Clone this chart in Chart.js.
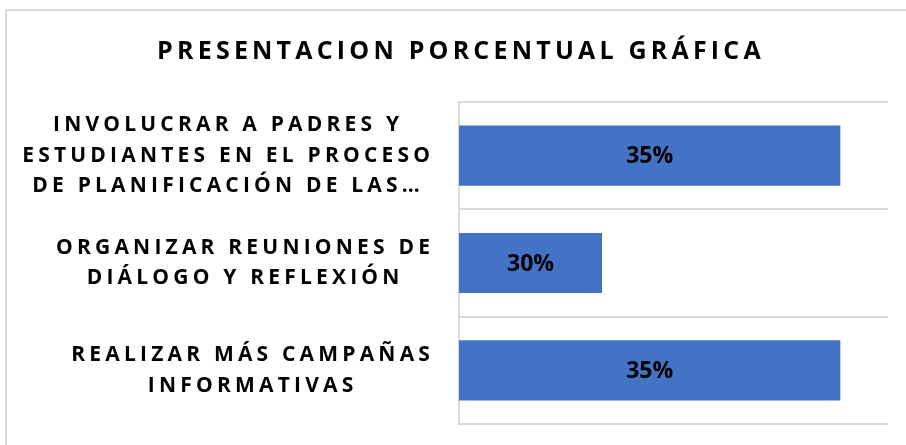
<!DOCTYPE html>
<html>
<head>
<meta charset="utf-8">
<script src="https://cdn.jsdelivr.net/npm/chart.js@4"></script>
<style>
  html, body { margin: 0; padding: 0; background: #fff; overflow: hidden; }
  #wrap { position: relative; width: 906px; height: 445px; }
  #frame { position: absolute; left: 5px; top: 9px; width: 1000px; height: 1000px; border: 2px solid #d9d9d9; }
  #chart { position: absolute; left: 0; top: 0; }
</style>
</head>
<body>
<div id="wrap">
  <div id="frame"></div>
  <canvas id="chart" width="906" height="445"></canvas>
</div>
<script>
const chartTitle = 'PRESENTACION PORCENTUAL GRÁFICA';
// each category split into lines the way the original wraps them
const categories = [
  ['INVOLUCRAR A PADRES Y', 'ESTUDIANTES EN EL PROCESO', 'DE PLANIFICACIÓN DE LAS…'],
  ['ORGANIZAR REUNIONES DE', 'DIÁLOGO Y REFLEXIÓN'],
  ['REALIZAR MÁS CAMPAÑAS', 'INFORMATIVAS']
];
const percentages = [0.35, 0.30, 0.35];
const axisMin = 0.27;
const axisMax = 0.36;

// draws the bar value labels and the letter-spaced category labels
const excelLabels = {
  id: 'excelLabels',
  beforeDraw(chart) {
    chart.ctx.letterSpacing = '4.2px';
  },
  afterDatasetsDraw(chart) {
    const ctx = chart.ctx;
    const meta = chart.getDatasetMeta(0);
    const left = chart.chartArea.left;
    ctx.save();
    ctx.letterSpacing = '0px';
    ctx.font = 'bold 23px "Open Sans"';
    ctx.fillStyle = '#000';
    ctx.textAlign = 'center';
    ctx.textBaseline = 'middle';
    meta.data.forEach((bar, i) => {
      const start = Math.max(bar.base, left);
      ctx.fillText(Math.round(percentages[i] * 100) + '%', (start + bar.x) / 2, bar.y + 1);
    });

    const yScale = chart.scales.y;
    const spacing = 4.2;
    ctx.font = 'bold 21px "Open Sans"';
    ctx.letterSpacing = spacing + 'px';
    categories.forEach((lines, i) => {
      const cy = yScale.getPixelForTick(i);
      const widest = Math.max(...lines.map(l => ctx.measureText(l).width));
      const cx = yScale.right - 27 - widest / 2 + spacing / 2;
      lines.forEach((line, j) => {
        ctx.fillText(line, cx, cy + (j - (lines.length - 1) / 2) * 30.5);
      });
    });
    ctx.restore();
  },
  afterDraw(chart) {
    chart.ctx.letterSpacing = '0px';
  }
};

new Chart(document.getElementById('chart'), {
  type: 'bar',
  data: {
    labels: categories,
    datasets: [{
      data: percentages,
      backgroundColor: '#4472c4',
      barPercentage: 0.56,
      categoryPercentage: 1
    }]
  },
  options: {
    indexAxis: 'y',
    responsive: false,
    animation: false,
    layout: {
      padding: { left: 34, right: 18, bottom: 21, top: 0 }
    },
    plugins: {
      legend: { display: false },
      tooltip: { enabled: false },
      title: {
        display: true,
        text: chartTitle,
        color: '#000',
        font: { family: '"Open Sans"', size: 25, weight: 'bold', lineHeight: 1.2 },
        padding: { top: 36.5, bottom: 35.5 }
      }
    },
    scales: {
      x: {
        display: false,
        min: axisMin,
        max: axisMax
      },
      y: {
        grid: { color: '#d9d9d9', lineWidth: 2, drawTicks: false, offset: true },
        border: { color: '#d9d9d9', width: 2 },
        ticks: { display: false },
        afterFit(scale) {
          scale.width = 425;
        }
      }
    }
  },
  plugins: [excelLabels]
});
</script>
</body>
</html>
